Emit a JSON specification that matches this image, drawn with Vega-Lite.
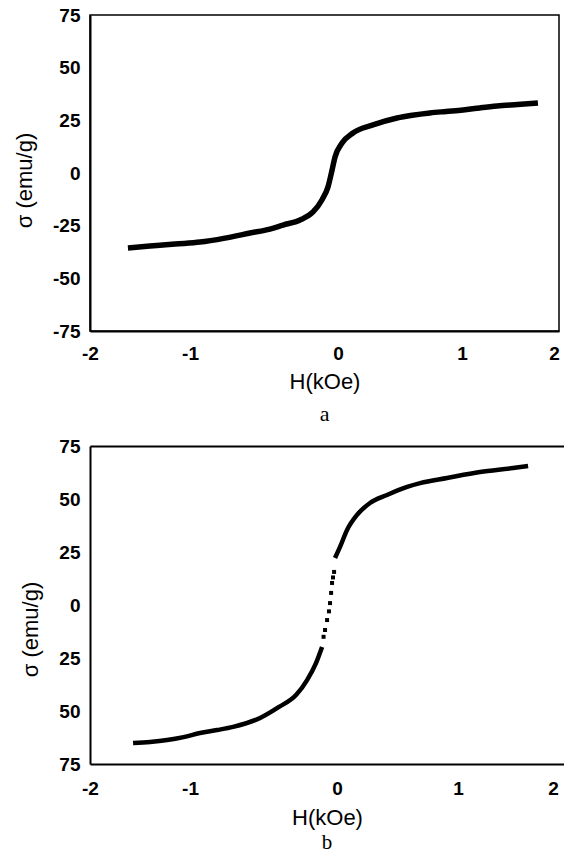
{
  "$schema": "https://vega.github.io/schema/vega-lite/v6.json",
  "padding": {"left": 12, "top": 5, "right": 0, "bottom": 0},
  "background": "white",
  "bounds": "flush",
  "spacing": 115,
  "config": {
    "axis": {
      "labelFont": "Liberation Sans", "labelFontWeight": "bold", "labelFontSize": 19, "labelColor": "black",
      "titleFont": "Liberation Sans", "titleFontWeight": "normal", "titleFontSize": 22, "titleColor": "black",
      "ticks": false, "grid": false, "domainColor": "black", "domainWidth": 2
    },
    "title": {"font": "Liberation Serif", "fontSize": 22, "fontWeight": "normal", "color": "black", "orient": "bottom", "anchor": "middle"}
  },
  "datasets": {
    "a": [
      {"H": -1.556, "sigma": -35.6}, {"H": -1.393, "sigma": -34.7}, {"H": -1.207, "sigma": -33.7},
      {"H": -1.022, "sigma": -32.8}, {"H": -0.837, "sigma": -30.9}, {"H": -0.652, "sigma": -28.5},
      {"H": -0.504, "sigma": -26.6}, {"H": -0.407, "sigma": -24.7}, {"H": -0.281, "sigma": -22.3},
      {"H": -0.185, "sigma": -18.5}, {"H": -0.119, "sigma": -12.8}, {"H": -0.074, "sigma": -6.6},
      {"H": -0.044, "sigma": 1.4}, {"H": -0.022, "sigma": 7.6}, {"H": 0.030, "sigma": 14.2},
      {"H": 0.111, "sigma": 19.0}, {"H": 0.259, "sigma": 22.8}, {"H": 0.437, "sigma": 26.1},
      {"H": 0.55, "sigma": 27.4}, {"H": 0.681, "sigma": 28.5}, {"H": 0.8, "sigma": 29.2},
      {"H": 0.926, "sigma": 29.9}, {"H": 1.05, "sigma": 30.9}, {"H": 1.178, "sigma": 31.8},
      {"H": 1.33, "sigma": 32.5}, {"H": 1.481, "sigma": 33.2}
    ],
    "b": [
      {"H": -1.511, "sigma": -65.1, "seg": "lower"}, {"H": -1.385, "sigma": -64.6, "seg": "lower"},
      {"H": -1.259, "sigma": -63.7, "seg": "lower"}, {"H": -1.137, "sigma": -62.3, "seg": "lower"},
      {"H": -1.015, "sigma": -60.4, "seg": "lower"}, {"H": -0.889, "sigma": -59.0, "seg": "lower"},
      {"H": -0.770, "sigma": -57.5, "seg": "lower"}, {"H": -0.570, "sigma": -53.3, "seg": "lower"},
      {"H": -0.430, "sigma": -48.1, "seg": "lower"}, {"H": -0.304, "sigma": -42.5, "seg": "lower"},
      {"H": -0.222, "sigma": -35.4, "seg": "lower"}, {"H": -0.156, "sigma": -27.4, "seg": "lower"},
      {"H": -0.111, "sigma": -19.8, "seg": "lower"},
      {"H": -0.100, "sigma": -15.0, "seg": "dots"}, {"H": -0.089, "sigma": -11.8, "seg": "dots"},
      {"H": -0.074, "sigma": -7.1, "seg": "dots"}, {"H": -0.060, "sigma": -3.0, "seg": "dots"},
      {"H": -0.052, "sigma": 0.9, "seg": "dots"}, {"H": -0.044, "sigma": 5.7, "seg": "dots"},
      {"H": -0.037, "sigma": 10.4, "seg": "dots"}, {"H": -0.030, "sigma": 13.0, "seg": "dots"},
      {"H": -0.022, "sigma": 15.6, "seg": "dots"},
      {"H": -0.015, "sigma": 22.2, "seg": "upper"}, {"H": 0.022, "sigma": 27.4, "seg": "upper"},
      {"H": 0.074, "sigma": 35.4, "seg": "upper"}, {"H": 0.148, "sigma": 42.5, "seg": "upper"},
      {"H": 0.244, "sigma": 48.1, "seg": "upper"}, {"H": 0.370, "sigma": 51.9, "seg": "upper"},
      {"H": 0.519, "sigma": 55.7, "seg": "upper"}, {"H": 0.615, "sigma": 57.5, "seg": "upper"},
      {"H": 0.815, "sigma": 59.9, "seg": "upper"}, {"H": 1.059, "sigma": 62.7, "seg": "upper"},
      {"H": 1.304, "sigma": 64.6, "seg": "upper"}, {"H": 1.415, "sigma": 65.6, "seg": "upper"}
    ]
  },
  "vconcat": [
    {
      "width": 469,
      "height": 316,
      "view": {"stroke": "black", "strokeWidth": 1.5},
      "title": {"text": "a", "offset": 12},
      "data": {"name": "a"},
      "mark": {"type": "line", "color": "black", "strokeWidth": 5.5, "interpolate": "monotone"},
      "encoding": {
        "x": {
          "field": "H", "type": "quantitative",
          "scale": {"domain": [-1.837, 1.637], "nice": false, "zero": false},
          "axis": {
            "values": [-1.837, -1.096, 0, 0.919, 1.6],
            "labelExpr": "datum.value < -1.5 ? '-2' : datum.value < -0.5 ? '-1' : datum.value < 0.5 ? '0' : datum.value < 1.3 ? '1' : '2'",
            "title": "H(kOe)", "labelPadding": 13, "titlePadding": 8, "labelFlush": false
          }
        },
        "y": {
          "field": "sigma", "type": "quantitative",
          "scale": {"domain": [-75, 75], "nice": false},
          "axis": {
            "values": [-75, -50, -25, 0, 25, 50, 75],
            "labelExpr": "(datum.value < 0 ? '-' : '') + abs(datum.value)",
            "title": "σ (emu/g)", "labelPadding": 10, "titlePadding": 16, "titleY": 165
          }
        }
      }
    },
    {
      "width": 474,
      "height": 318,
      "view": {"stroke": null},
      "title": {"text": "b", "offset": 4, "fontSize": 21},
      "data": {"name": "b"},
      "encoding": {
        "y": {
          "field": "sigma", "type": "quantitative",
          "scale": {"domain": [-75, 75], "nice": false},
          "axis": {
            "values": [-75, -50, -25, 0, 25, 50, 75],
            "labelExpr": "'' + abs(datum.value)",
            "title": "σ (emu/g)", "labelPadding": 10, "titlePadding": 16, "titleY": 183
          }
        }
      },
      "layer": [
        {
          "transform": [{"filter": "datum.seg != 'dots'"}],
          "mark": {"type": "line", "color": "black", "strokeWidth": 4.5, "interpolate": "monotone"},
          "encoding": {
            "detail": {"field": "seg"},
            "x": {
              "field": "H", "type": "quantitative",
              "scale": {"domain": [-1.83, 1.681], "nice": false, "zero": false},
              "axis": {
                "values": [-1.83, -1.089, 0, 0.896, 1.6],
                "labelExpr": "datum.value < -1.5 ? '-2' : datum.value < -0.5 ? '-1' : datum.value < 0.5 ? '0' : datum.value < 1.3 ? '1' : '2'",
                "title": "H(kOe)", "labelPadding": 15, "titlePadding": 9, "labelFlush": false
              }
            }
          }
        },
        {
          "transform": [{"filter": "datum.seg == 'dots'"}],
          "mark": {"type": "point", "shape": "square", "filled": true, "color": "black", "size": 16, "opacity": 1},
          "encoding": {
            "x": {"field": "H", "type": "quantitative", "axis": null}
          }
        },
        {
          "mark": {"type": "point", "opacity": 0},
          "encoding": {
            "x": {
              "field": "H", "type": "quantitative",
              "axis": {"orient": "top", "labels": false, "title": null, "domain": true, "domainWidth": 2}
            }
          }
        }
      ],
      "resolve": {"axis": {"x": "independent"}}
    }
  ]
}
